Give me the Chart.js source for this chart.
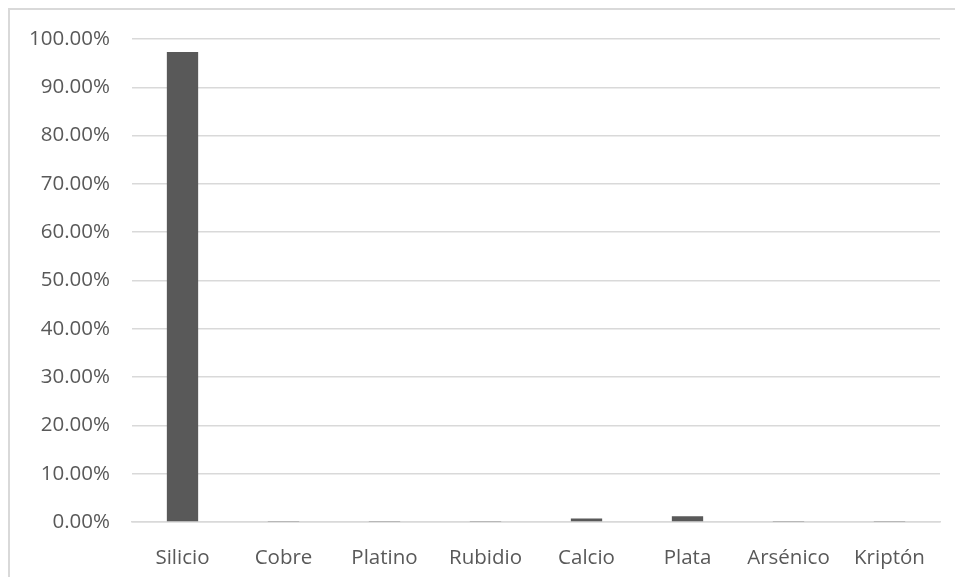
<!DOCTYPE html>
<html lang="es">
<head>
  <meta charset="UTF-8">
  <title>Elementos</title>
  <script src="https://cdn.jsdelivr.net/npm/chart.js"></script>
  <style>
    body{
      margin: 0;
      background: #fff;
    }
    #wrap{
      position: relative;
      width: 955px;
      height: 577px;
      overflow: hidden;
    }
    #frame{
      position: absolute;
      left: 8px;
      top: 8px;
      width: 960px;
      height: 600px;
      border-left: 2px solid #d9d9d9;
      border-top: 2px solid #d9d9d9;
    }
    canvas{
      position: absolute;
      left: 0;
      top: 0;
    }
  </style>
</head>
<body>
  <div id="wrap">
    <div id="frame"></div>
    <canvas id="elementChart" width="955" height="577"></canvas>
  </div>

<script>
  // valores (en %)
  const elementos = ['Silicio', 'Cobre', 'Platino', 'Rubidio', 'Calcio', 'Plata', 'Arsénico', 'Kriptón'];
  const porcentajes = [97.3, 0.1, 0.1, 0.1, 0.7, 1.2, 0.1, 0.1];
  const yTicks = [0, 10, 20, 30, 40, 50, 60, 70, 80, 90, 100];

  const textColor = '#595959';
  const gridColor = '#d9d9d9';
  const font = { family: "'Open Sans', sans-serif", size: 20.5 };

  const ctx = document.getElementById('elementChart').getContext('2d');

  new Chart(ctx, {
    type: 'bar',
    data: {
      labels: elementos,
      datasets: [{
        label: 'Porcentaje',
        data: porcentajes,
        backgroundColor: '#595959',
        borderWidth: 0,
        barPercentage: 0.31,
        categoryPercentage: 1.0
      }]
    },
    options: {
      responsive: false,
      animation: false,
      layout: {
        padding: { top: 39, right: 15, bottom: 0, left: 0 }
      },
      plugins: {
        legend: { display: false },
        tooltip: { enabled: false }
      },
      scales: {
        x: {
          grid: { display: false },
          border: { display: true, color: gridColor, width: 1.5 },
          ticks: { color: textColor, font: font, padding: 16, maxRotation: 0 },
          afterFit: function(scale) { scale.height = 55; }
        },
        y: {
          min: 0,
          max: 100,
          afterBuildTicks: function(scale) {
            scale.ticks = yTicks.map(v => ({ value: v }));
          },
          grid: { color: gridColor, lineWidth: 1.5, drawTicks: false },
          border: { display: false },
          ticks: {
            color: textColor,
            font: font,
            padding: 22,
            callback: function(v) { return v.toFixed(2) + '%'; }
          },
          afterFit: function(scale) { scale.width = 132; }
        }
      }
    }
  });
</script>
</body>
</html>
